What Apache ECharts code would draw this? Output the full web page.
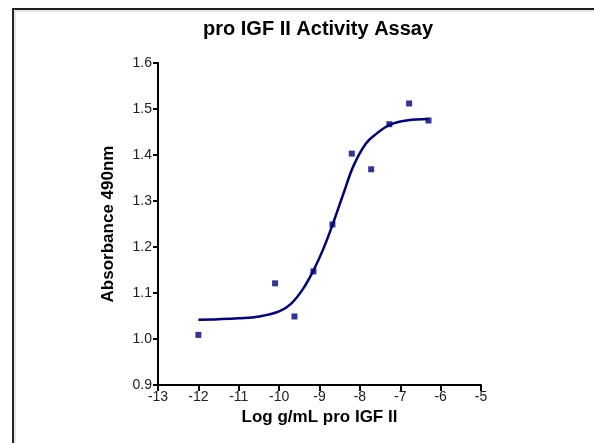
<!DOCTYPE html>
<html lang="en">
  <head>
    <meta charset="UTF-8" />
    <title>pro IGF II Activity Assay</title>
    <script src="https://cdn.jsdelivr.net/npm/echarts@6/dist/echarts.min.js"></script>
    <style>
      html, body { margin: 0; padding: 0; background: #fff; }
    </style>
  </head>
  <body>
    <div id="main" style="width: 594px; height: 443px"></div>
    <script type="text/javascript">
      // measured points
      var doseLog = [-12, -10.1, -9.62, -9.15, -8.68, -8.2, -7.72, -7.27, -6.78, -6.3];
      var absorbance = [1.009, 1.121, 1.049, 1.147, 1.249, 1.403, 1.369, 1.467, 1.512, 1.475];

      // fitted curve
      var fitX = [-12, -11.5, -11, -10.5, -10, -9.7, -9.4, -9.15, -8.9, -8.65, -8.4, -8.15, -7.85, -7.58, -7.25, -6.84, -6.3];
      var fitY = [1.042, 1.043, 1.045, 1.049, 1.060, 1.077, 1.110, 1.149, 1.197, 1.255, 1.318, 1.378, 1.425, 1.447, 1.466, 1.475, 1.478];

      var xTicks = [-13, -12, -11, -10, -9, -8, -7, -6, -5];
      var yTicks = [0.9, 1.0, 1.1, 1.2, 1.3, 1.4, 1.5, 1.6];

      var navy = "#00007f";
      var font = "'Liberation Sans', Arial, sans-serif";

      var myChart = echarts.init(document.getElementById("main"));

      var option = {
        backgroundColor: "#fff",
        animation: false,
        title: {
          text: "pro IGF II Activity Assay",
          left: 198,
          top: 14,
          textStyle: { fontFamily: font, fontSize: 20, fontWeight: "bold", color: "#000" },
        },
        graphic: [
          {
            type: "polyline",
            shape: { points: [[13, 443], [13, 9], [594, 9]] },
            style: { stroke: "#222", lineWidth: 2, fill: null },
          },
          {
            type: "polyline",
            shape: { points: [[15, 443], [15, 11], [594, 11]] },
            style: { stroke: "#ccc", lineWidth: 1, fill: null },
          },
        ],
        grid: { left: 158, right: 113, top: 63, bottom: 58 },
        xAxis: {
          type: "value",
          min: xTicks[0],
          max: xTicks[xTicks.length - 1],
          interval: 1,
          name: "Log g/mL pro IGF II",
          nameLocation: "middle",
          nameGap: 21,
          nameTextStyle: { fontFamily: font, fontSize: 17, fontWeight: "bold", color: "#000" },
          axisLine: { lineStyle: { color: "#000", width: 2 } },
          axisTick: { inside: false, length: 6, lineStyle: { color: "#000", width: 2 } },
          axisLabel: { fontFamily: font, fontSize: 14, color: "#222", margin: 5 },
          splitLine: { show: false },
        },
        yAxis: {
          type: "value",
          min: yTicks[0],
          max: yTicks[yTicks.length - 1],
          interval: 0.1,
          name: "Absorbance 490nm",
          nameLocation: "middle",
          nameGap: 41,
          nameTextStyle: { fontFamily: font, fontSize: 17, fontWeight: "bold", color: "#000" },
          axisLine: { show: true, lineStyle: { color: "#000", width: 2 } },
          axisTick: { show: true, inside: false, length: 5, lineStyle: { color: "#000", width: 2 } },
          axisLabel: {
            fontFamily: font,
            fontSize: 14,
            color: "#222",
            margin: 6,
            formatter: function (v) {
              return v.toFixed(1);
            },
          },
          splitLine: { show: false },
        },
        series: [
          {
            type: "line",
            data: fitX.map(function (x, i) { return [x, fitY[i]]; }),
            smooth: 0.4,
            showSymbol: false,
            lineStyle: { color: navy, width: 2.5 },
            z: 2,
          },
          {
            type: "scatter",
            data: doseLog.map(function (x, i) { return [x, absorbance[i]]; }),
            symbol: "rect",
            symbolSize: 6,
            itemStyle: { color: navy },
            z: 3,
          },
        ],
      };
      myChart.setOption(option);
    </script>
  </body>
</html>
